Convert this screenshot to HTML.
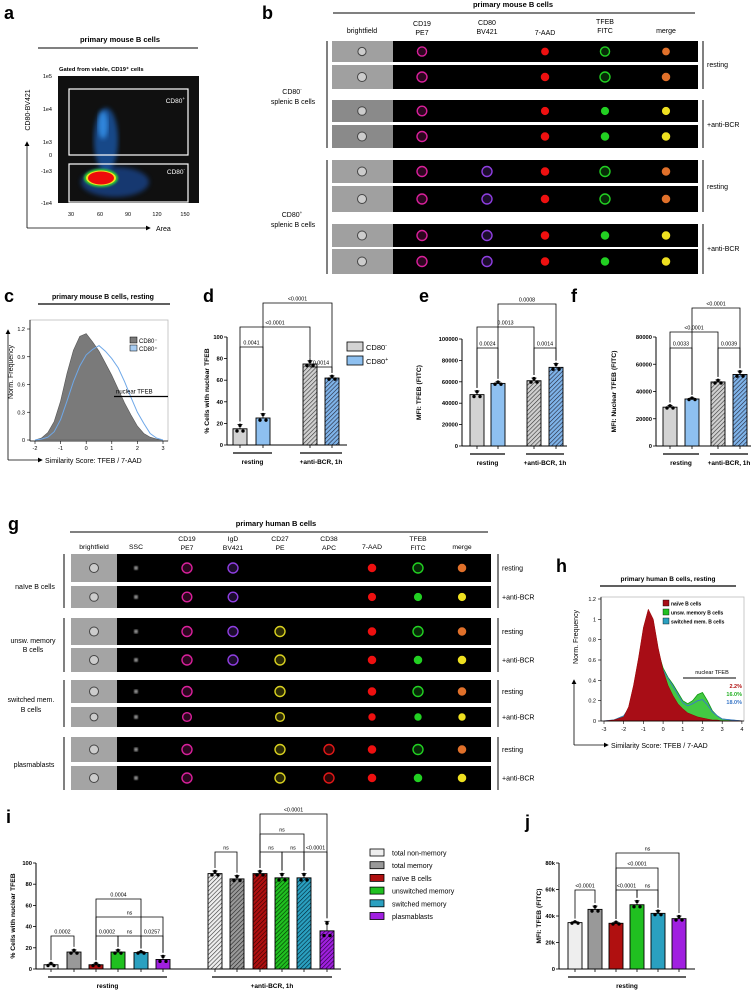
<!DOCTYPE html>
<html><head><meta charset="utf-8">
<style>
html,body{margin:0;padding:0;background:#fff;}
svg{display:block;font-family:"Liberation Sans",Arial,sans-serif;}
</style></head>
<body>
<svg id="fig" width="751" height="997" viewBox="0 0 751 997" xmlns="http://www.w3.org/2000/svg">
<defs>
<filter id="blur2"><feGaussianBlur stdDeviation="2.5"/></filter>
<filter id="blur1"><feGaussianBlur stdDeviation="1"/></filter>
<pattern id="hGray" width="3" height="3" patternUnits="userSpaceOnUse" patternTransform="rotate(45)"><rect width="3" height="3" fill="#d0d0d0"/><line x1="0" y1="0" x2="0" y2="3" stroke="#333" stroke-width="1.2"/></pattern>
<pattern id="hBlue" width="3" height="3" patternUnits="userSpaceOnUse" patternTransform="rotate(45)"><rect width="3" height="3" fill="#7fb4ea"/><line x1="0" y1="0" x2="0" y2="3" stroke="#223" stroke-width="1.2"/></pattern>
<pattern id="hWhite" width="3" height="3" patternUnits="userSpaceOnUse" patternTransform="rotate(45)"><rect width="3" height="3" fill="#eee"/><line x1="0" y1="0" x2="0" y2="3" stroke="#333" stroke-width="1.2"/></pattern>
<pattern id="hGray2" width="3" height="3" patternUnits="userSpaceOnUse" patternTransform="rotate(45)"><rect width="3" height="3" fill="#999"/><line x1="0" y1="0" x2="0" y2="3" stroke="#222" stroke-width="1.2"/></pattern>
<pattern id="hRed" width="3" height="3" patternUnits="userSpaceOnUse" patternTransform="rotate(45)"><rect width="3" height="3" fill="#b01010"/><line x1="0" y1="0" x2="0" y2="3" stroke="#300" stroke-width="1.2"/></pattern>
<pattern id="hGreen" width="3" height="3" patternUnits="userSpaceOnUse" patternTransform="rotate(45)"><rect width="3" height="3" fill="#20c020"/><line x1="0" y1="0" x2="0" y2="3" stroke="#030" stroke-width="1.2"/></pattern>
<pattern id="hCyan" width="3" height="3" patternUnits="userSpaceOnUse" patternTransform="rotate(45)"><rect width="3" height="3" fill="#2aa0c0"/><line x1="0" y1="0" x2="0" y2="3" stroke="#023" stroke-width="1.2"/></pattern>
<pattern id="hPurple" width="3" height="3" patternUnits="userSpaceOnUse" patternTransform="rotate(45)"><rect width="3" height="3" fill="#a020e0"/><line x1="0" y1="0" x2="0" y2="3" stroke="#203" stroke-width="1.2"/></pattern>
<marker id="arr" markerWidth="6" markerHeight="6" refX="5" refY="3" orient="auto"><path d="M0,0 L6,3 L0,6 z" fill="#000"/></marker>
</defs>

<g>
<text x="4" y="19" font-size="18" font-weight="bold">a</text>
<text x="120" y="42" font-size="7.5" font-weight="bold" text-anchor="middle">primary mouse B cells</text>
<line x1="38" y1="48" x2="198" y2="48" stroke="#000" stroke-width="1"/>
<text x="59" y="71" font-size="5.8" font-weight="bold">Gated from viable, CD19⁺ cells</text>
<rect x="58" y="76" width="141" height="127" fill="#101010"/>
<g>
<ellipse cx="106" cy="140" rx="12" ry="32" fill="#1e6ed8" opacity="0.6" filter="url(#blur2)"/>
<ellipse cx="115" cy="182" rx="34" ry="15" fill="#1a5ac0" opacity="0.55" filter="url(#blur2)"/>
<ellipse cx="103" cy="125" rx="5" ry="14" fill="#3aa0ff" opacity="0.7" filter="url(#blur2)"/>
<ellipse cx="101" cy="178" rx="17" ry="9" fill="#30d030" filter="url(#blur1)"/>
<ellipse cx="101" cy="178" rx="15" ry="7.5" fill="#f0e020"/>
<ellipse cx="101" cy="178" rx="13" ry="6.5" fill="#ee0a0a"/>
</g>
<rect x="69" y="89" width="119" height="66" fill="none" stroke="#fff" stroke-width="1.2"/>
<rect x="69" y="164" width="119" height="38" fill="none" stroke="#fff" stroke-width="1.2"/>
<text x="185" y="103" font-size="6.5" fill="#fff" text-anchor="end">CD80<tspan font-size="4.5" dy="-3">+</tspan></text>
<text x="185" y="174" font-size="6.5" fill="#fff" text-anchor="end">CD80<tspan font-size="4.5" dy="-3">-</tspan></text>
<g font-size="5.5" text-anchor="end">
<text x="52" y="78">1e5</text><text x="52" y="111">1e4</text><text x="52" y="144">1e3</text><text x="52" y="157">0</text><text x="52" y="173">-1e3</text><text x="52" y="205">-1e4</text>
</g>
<g font-size="5.5" text-anchor="middle">
<text x="71" y="216">30</text><text x="100" y="216">60</text><text x="128" y="216">90</text><text x="157" y="216">120</text><text x="185" y="216">150</text>
</g>
<line x1="27" y1="228" x2="150" y2="228" stroke="#000" stroke-width="0.8" marker-end="url(#arr)"/>
<line x1="27" y1="228" x2="27" y2="142" stroke="#000" stroke-width="0.8" marker-end="url(#arr)"/>
<text x="156" y="231" font-size="7">Area</text>
<text transform="translate(30,110) rotate(-90)" font-size="7" text-anchor="middle">CD80-BV421</text>
</g>

<g id="panelB">
<text x="262" y="19" font-size="18" font-weight="bold">b</text>
<text x="513" y="7" font-size="7.5" font-weight="bold" text-anchor="middle">primary mouse B cells</text>
<line x1="333" y1="13" x2="695" y2="13" stroke="#000" stroke-width="1"/>
<g font-size="7" text-anchor="middle">
<text x="362" y="33">brightfield</text>
<text x="422" y="26">CD19</text><text x="422" y="35">PE7</text>
<text x="487" y="25">CD80</text><text x="487" y="34">BV421</text>
<text x="545" y="35">7-AAD</text>
<text x="605" y="24">TFEB</text><text x="605" y="33">FITC</text>
<text x="666" y="33">merge</text>
</g>
<g font-size="7" text-anchor="middle">
<text x="292" y="94">CD80<tspan font-size="4.5" dy="-3">-</tspan></text>
<text x="293" y="104">splenic B cells</text>
<text x="292" y="217">CD80<tspan font-size="4.5" dy="-3">+</tspan></text>
<text x="293" y="227">splenic B cells</text>
</g>
<line x1="327" y1="41" x2="327" y2="148" stroke="#000" stroke-width="1"/>
<line x1="327" y1="160" x2="327" y2="274" stroke="#000" stroke-width="1"/>
<line x1="703" y1="41" x2="703" y2="89" stroke="#000" stroke-width="1"/>
<line x1="703" y1="100" x2="703" y2="148" stroke="#000" stroke-width="1"/>
<line x1="703" y1="160" x2="703" y2="212" stroke="#000" stroke-width="1"/>
<line x1="703" y1="224" x2="703" y2="274" stroke="#000" stroke-width="1"/>
<g font-size="7">
<text x="707" y="67">resting</text><text x="707" y="127">+anti-BCR</text>
<text x="707" y="189">resting</text><text x="707" y="251">+anti-BCR</text>
</g>
</g>

<g id="panelG">
<text x="8" y="530" font-size="18" font-weight="bold">g</text>
<text x="276" y="526" font-size="7.5" font-weight="bold" text-anchor="middle">primary human B cells</text>
<line x1="70" y1="532" x2="488" y2="532" stroke="#000" stroke-width="1"/>
<g font-size="6.8" text-anchor="middle">
<text x="94" y="549">brightfield</text><text x="136" y="549">SSC</text>
<text x="187" y="541">CD19</text><text x="187" y="550">PE7</text>
<text x="233" y="541">IgD</text><text x="233" y="550">BV421</text>
<text x="280" y="541">CD27</text><text x="280" y="550">PE</text>
<text x="329" y="541">CD38</text><text x="329" y="550">APC</text>
<text x="372" y="549">7-AAD</text>
<text x="418" y="541">TFEB</text><text x="418" y="550">FITC</text>
<text x="462" y="549">merge</text>
</g>
<g font-size="7" text-anchor="middle">
<text x="35" y="589">naïve B cells</text>
<text x="33" y="643">unsw. memory</text><text x="33" y="652">B cells</text>
<text x="31" y="702">switched mem.</text><text x="31" y="712">B cells</text>
<text x="34" y="767">plasmablasts</text>
</g>
<line x1="64" y1="554" x2="64" y2="608" stroke="#000"/><line x1="64" y1="618" x2="64" y2="672" stroke="#000"/>
<line x1="64" y1="680" x2="64" y2="727" stroke="#000"/><line x1="64" y1="737" x2="64" y2="790" stroke="#000"/>
</g>

<g id="panelC">
<text x="4" y="302" font-size="18" font-weight="bold">c</text>
<text x="103" y="299" font-size="7" font-weight="bold" text-anchor="middle">primary mouse B cells, resting</text>
<line x1="38" y1="304" x2="170" y2="304" stroke="#000" stroke-width="1.2"/>
<line x1="8" y1="460" x2="8" y2="330" stroke="#000" stroke-width="0.8" marker-end="url(#arr)"/>
<line x1="8" y1="460" x2="42" y2="460" stroke="#000" stroke-width="0.8" marker-end="url(#arr)"/>
<text x="45" y="463" font-size="7">Similarity Score: TFEB / 7-AAD</text>
<text transform="translate(13,372) rotate(-90)" font-size="7" text-anchor="middle">Norm. Frequency</text>
</g>

<g id="panelH">
<text x="556" y="572" font-size="18" font-weight="bold">h</text>
<text x="668" y="581" font-size="6.5" font-weight="bold" text-anchor="middle">primary human B cells, resting</text>
<line x1="600" y1="586" x2="736" y2="586" stroke="#000" stroke-width="1.2"/>
<line x1="574" y1="745" x2="574" y2="680" stroke="#000" stroke-width="0.8" marker-end="url(#arr)"/>
<line x1="574" y1="745" x2="608" y2="745" stroke="#000" stroke-width="0.8" marker-end="url(#arr)"/>
<text x="611" y="748" font-size="7">Similarity Score: TFEB / 7-AAD</text>
<text transform="translate(578,637) rotate(-90)" font-size="7" text-anchor="middle">Norm. Frequency</text>
</g>

<g id="charts"></g>
</svg>

<script>
// ---------- data ----------
const dCategories = ["CD80- resting","CD80+ resting","CD80- anti-BCR","CD80+ anti-BCR"];
const dValues = [15, 25, 75, 62];
const dErr = [4, 4, 3, 2];
const eValues = [48000, 58500, 61000, 73500];
const eErr = [3500, 1500, 2500, 3500];
const fValues = [28500, 34500, 47000, 52500];
const fErr = [1200, 800, 1500, 2500];
const iCategories = ["total non-memory","total memory","naïve B cells","unswitched memory","switched memory","plasmablasts"];
const iResting = [4, 16, 4, 16, 15.5, 9];
const iRestErr = [1.5, 2, 1.5, 2, 1, 3.5];
const iAnti = [90, 85, 90, 86, 86, 36];
const iAntiErr = [2.5, 3, 2.5, 4, 4, 9];
const jValues = [35, 45, 34.5, 48.5, 42, 38];
const jErr = [0.8, 2.5, 1, 3, 2, 2];
const dTicks = [0, 20, 40, 60, 80, 100];
const eTicks = [0, 20000, 40000, 60000, 80000, 100000];
const fTicks = [0, 20000, 40000, 60000, 80000];
const iTicks = [0, 20, 40, 60, 80, 100];
const jTicks = [0, 20, 40, 60, 80];
const jTickLabels = ["0", "20k", "40k", "60k", "80k"];
const cX = [-2,-1.75,-1.5,-1.25,-1,-0.75,-0.5,-0.25,0,0.25,0.5,0.75,1,1.25,1.5,1.75,2,2.25,2.5,2.75,3];
const cNeg = [0,0.02,0.08,0.2,0.42,0.72,0.97,1.12,1.15,1.06,0.96,0.83,0.7,0.55,0.4,0.27,0.15,0.07,0.03,0.01,0];
const cPos = [0,0.01,0.03,0.09,0.22,0.42,0.63,0.8,0.92,0.98,1.02,0.96,0.88,0.78,0.63,0.46,0.3,0.18,0.07,0.02,0];
const cTicksX = [-2,-1,0,1,2,3];
const cTicksY = [0,0.3,0.6,0.9,1.2];
const hX = [-3,-2.5,-2,-1.75,-1.5,-1.25,-1,-0.75,-0.5,-0.25,0,0.25,0.5,0.75,1,1.25,1.5,1.75,2,2.25,2.5,2.75,3,3.5,4];
const hNaive = [0,0.01,0.04,0.14,0.35,0.62,0.92,1.1,1.0,0.72,0.5,0.35,0.25,0.17,0.12,0.08,0.06,0.04,0.03,0.02,0.01,0.01,0,0,0];
const hUnsw = [0,0.01,0.05,0.12,0.3,0.52,0.72,0.88,0.92,0.68,0.52,0.43,0.36,0.28,0.2,0.17,0.2,0.26,0.28,0.2,0.1,0.05,0.02,0.01,0];
const hSwitched = [0,0.01,0.05,0.12,0.3,0.55,0.78,0.85,0.78,0.6,0.5,0.42,0.34,0.26,0.18,0.15,0.17,0.2,0.21,0.16,0.09,0.05,0.02,0.01,0];
const hTicksX = [-3,-2,-1,0,1,2,3,4];
const hTicksY = [0,0.2,0.4,0.6,0.8,1,1.2];

const NS = "http://www.w3.org/2000/svg";
const root = document.getElementById("charts");
function mk(tag, attrs, parent) {
  const el = document.createElementNS(NS, tag);
  for (const k in attrs) el.setAttribute(k, attrs[k]);
  (parent || root).appendChild(el);
  return el;
}
function txt(x, y, s, size, anchor, parent, extra) {
  const t = mk("text", Object.assign({x: x, y: y, "font-size": size, "text-anchor": anchor || "middle"}, extra || {}), parent);
  t.textContent = s;
  return t;
}

const COL = {cd19:"#d8209a", cd80:"#8e3ee0", aad:"#ee1010", tfeb:"#22d022", cd27:"#d8d020", cd38:"#e01818", mergeR:"#e0702a", mergeA:"#eee020", ssc:"#bbb"};
function cellStrip(parent, x0, x1, bfEnd, y0, y1, cols, chans, bfShade) {
  const g = mk("g", {}, parent);
  
  
  mk("rect", {x: x0, y: y0, width: x1 - x0, height: y1 - y0, fill: "#000"}, g);
  mk("rect", {x: x0, y: y0, width: bfEnd - x0, height: y1 - y0, fill: bfShade}, g);
  const cy = (y0 + y1) / 2;
  const r = Math.min(5, (y1 - y0) / 4.6);
  chans.forEach((c, i) => {
    const cx = cols[i];
    if (!c) return;
    const [kind, color] = c.split(":");
    if (kind === "bf") {
      mk("circle", {cx: cx, cy: cy, r: r * 0.9, fill: "#ccc", stroke: "#444", "stroke-width": 1}, g);
    } else if (kind === "ring") {
      mk("circle", {cx: cx, cy: cy, r: r, fill: COL[color], "fill-opacity": 0.2, stroke: COL[color], "stroke-width": 1.4}, g);
    } else if (kind === "dot") {
      mk("circle", {cx: cx, cy: cy, r: r * 0.85, fill: COL[color]}, g);
    } else if (kind === "ssc") {
      mk("circle", {cx: cx, cy: cy, r: 2, fill: "#aaa", filter: "url(#blur1)"}, g);
    }
  });
}
const bRows = [[41,62],[65,89],[100,122],[125,148],[160,183],[186,212],[224,247],[249,274]];
const bCols = [362,422,487,545,605,666];
const pB = document.getElementById("panelB");
bRows.forEach((r, i) => {
  const pos = i >= 4;
  const anti = (i % 4) >= 2;
  cellStrip(pB, 332, 698, 393, r[0], r[1], bCols,
    ["bf", "ring:cd19", pos ? "ring:cd80" : null, "dot:aad", anti ? "dot:tfeb" : "ring:tfeb", anti ? "dot:mergeA" : "dot:mergeR"],
    anti && !pos ? "#8a8a8a" : "#a0a0a0");
});
const gRows = [[554,582],[586,608],[618,645],[648,672],[680,703],[707,727],[737,762],[766,790]];
const gCols = [94,136,187,233,280,329,372,418,462];
const gGroups = [
  ["ssc", "ring:cd19", "ring:cd80", null, null],
  ["ssc", "ring:cd19", "ring:cd80", "ring:cd27", null],
  ["ssc", "ring:cd19", null, "ring:cd27", null],
  ["ssc", "ring:cd19", null, "ring:cd27", "ring:cd38"]
];
const pG = document.getElementById("panelG");
gRows.forEach((r, i) => {
  const grp = gGroups[Math.floor(i / 2)];
  const anti = i % 2 === 1;
  cellStrip(pG, 71, 491, 117, r[0], r[1], gCols,
    ["bf"].concat(grp, ["dot:aad", anti ? "dot:tfeb" : "ring:tfeb", anti ? "dot:mergeA" : "dot:mergeR"]), "#a4a4a4");
  const lbl = txt(502, (r[0] + r[1]) / 2 + 2.5, anti ? "+anti-BCR" : "resting", 7, "start", pG);
  
  
  if (!anti) mk("line", {x1: 498, y1: r[0], x2: 498, y2: gRows[i + 1][1], stroke: "#000"}, pG);
});

function histPath(xs, ys, sx, sy, closed) {
  let d = "";
  xs.forEach((x, i) => { d += (i ? "L" : "M") + sx(x).toFixed(1) + "," + sy(ys[i]).toFixed(1); });
  if (closed) d += "L" + sx(xs[xs.length - 1]) + "," + sy(0) + "L" + sx(xs[0]) + "," + sy(0) + "Z";
  return d;
}
(function () {
  const p = document.getElementById("panelC");
  const sx = v => 35 + (v + 2) * 25.6;
  const sy = v => 440 - v / 1.2 * 111;
  mk("rect", {x: 30, y: 320, width: 138, height: 121, fill: "#fff", stroke: "#bbb", "stroke-width": 0.8}, p);
  const gneg = mk("path", {d: histPath(cX, cNeg, sx, sy, true), fill: "#7a7a7a", stroke: "#555", "stroke-width": 0.6}, p);
  
  
  const gpos = mk("path", {d: histPath(cX, cPos, sx, sy, false), fill: "none", stroke: "#6fa8e8", "stroke-width": 1}, p);
  
  
  mk("line", {x1: 30, y1: 441, x2: 168, y2: 441, stroke: "#000", "stroke-width": 0.8}, p);
  mk("line", {x1: 30, y1: 320, x2: 30, y2: 441, stroke: "#000", "stroke-width": 0.8}, p);
  cTicksX.forEach(t => { mk("line", {x1: sx(t), y1: 441, x2: sx(t), y2: 444, stroke: "#000", "stroke-width": 0.6}, p); txt(sx(t), 450, String(t), 5.5, "middle", p); });
  cTicksY.forEach(t => { mk("line", {x1: 27, y1: sy(t), x2: 30, y2: sy(t), stroke: "#000", "stroke-width": 0.6}, p); txt(25, sy(t) + 2, String(t), 5.5, "end", p); });
  mk("line", {x1: 114, y1: sy(0.47), x2: 168, y2: sy(0.47), stroke: "#000", "stroke-width": 1.2}, p);
  txt(116, sy(0.47) - 3, "nuclear TFEB", 6, "start", p);
  mk("rect", {x: 130, y: 337, width: 7, height: 6, fill: "#7a7a7a", stroke: "#000", "stroke-width": 0.5}, p);
  mk("rect", {x: 130, y: 345, width: 7, height: 6, fill: "#a8cdf3", stroke: "#000", "stroke-width": 0.5}, p);
  txt(139, 343, "CD80⁻", 6, "start", p); txt(139, 351, "CD80⁺", 6, "start", p);
})();
(function () {
  const p = document.getElementById("panelH");
  const sx = v => 604 + (v + 3) * 19.7;
  const sy = v => 721 - v / 1.2 * 122;
  mk("rect", {x: 601, y: 597, width: 143, height: 124, fill: "#fff", stroke: "#bbb", "stroke-width": 0.8}, p);
  const gu = mk("path", {d: histPath(hX, hUnsw, sx, sy, true), fill: "#22c022", "fill-opacity": 0.85, stroke: "#119911", "stroke-width": 0.8}, p);
  
  
  const gs = mk("path", {d: histPath(hX, hSwitched, sx, sy, false), fill: "none", stroke: "#3a78c8", "stroke-width": 0.9}, p);
  
  
  const gn = mk("path", {d: histPath(hX, hNaive, sx, sy, true), fill: "#a80d16", stroke: "#900", "stroke-width": 0.5}, p);
  
  
  mk("line", {x1: 601, y1: 721, x2: 744, y2: 721, stroke: "#000", "stroke-width": 0.8}, p);
  mk("line", {x1: 601, y1: 597, x2: 601, y2: 721, stroke: "#000", "stroke-width": 0.8}, p);
  hTicksX.forEach(t => { mk("line", {x1: sx(t), y1: 721, x2: sx(t), y2: 724, stroke: "#000", "stroke-width": 0.6}, p); txt(sx(t), 731, String(t), 5.5, "middle", p); });
  hTicksY.forEach(t => { mk("line", {x1: 598, y1: sy(t), x2: 601, y2: sy(t), stroke: "#000", "stroke-width": 0.6}, p); txt(596, sy(t) + 2, String(t), 5.5, "end", p); });
  const leg = [["#a80d16", "naïve B cells"], ["#22c022", "unsw. memory B cells"], ["#2aa0c0", "switched mem. B cells"]];
  leg.forEach((l, i) => { mk("rect", {x: 663, y: 600 + i * 9, width: 6, height: 6, fill: l[0], stroke: "#000", "stroke-width": 0.4}, p); txt(671, 605.5 + i * 9, l[1], 5, "start", p, {"font-weight": "bold"}); });
  txt(712, 674, "nuclear TFEB", 5.5, "middle", p);
  mk("line", {x1: 683, y1: 678, x2: 736, y2: 678, stroke: "#000", "stroke-width": 1}, p);
  txt(742, 688, "2.2%", 5.5, "end", p, {fill: "#b01010", "font-weight": "bold"});
  txt(742, 696, "16.0%", 5.5, "end", p, {fill: "#22b022", "font-weight": "bold"});
  txt(742, 704, "18.0%", 5.5, "end", p, {fill: "#3a78c8", "font-weight": "bold"});
})();

function barChart(o) {
  const g = mk("g", {});
  
  
  const sy = v => o.y0 - v / o.max * o.h;
  txt(o.lx, o.ly, o.letter, 18, "start", g, {"font-weight": "bold"});
  mk("line", {x1: o.ax, y1: sy(o.max), x2: o.ax, y2: o.y0, stroke: "#000", "stroke-width": 1}, g);
  mk("line", {x1: o.ax, y1: o.y0, x2: o.axEnd, y2: o.y0, stroke: "#000", "stroke-width": 1}, g);
  o.ticks.forEach((t, i) => {
    mk("line", {x1: o.ax - 3, y1: sy(t), x2: o.ax, y2: sy(t), stroke: "#000", "stroke-width": 0.8}, g);
    txt(o.ax - 4, sy(t) + 2, o.tickLabels ? o.tickLabels[i] : String(t), 5.8, "end", g, {"font-weight": "bold"});
  });
  const yt = txt(0, 0, o.ytitle, 6.8, "middle", g, {"font-weight": "bold", transform: "translate(" + o.ytx + "," + ((sy(o.max) + o.y0) / 2) + ") rotate(-90)"});
  
  o.values.forEach((v, i) => {
    const cx = o.xs[i];
    const b = mk("rect", {x: cx - o.bw / 2, y: sy(v), width: o.bw, height: o.y0 - sy(v), fill: o.fills[i], stroke: "#000", "stroke-width": 0.9}, g);
    
    
    const e = o.errs[i];
    mk("line", {x1: cx, y1: sy(v + e), x2: cx, y2: sy(v), stroke: "#000", "stroke-width": 0.8}, g);
    mk("line", {x1: cx - 2.5, y1: sy(v + e), x2: cx + 2.5, y2: sy(v + e), stroke: "#000", "stroke-width": 0.8}, g);
    [-3, 0, 3].forEach((dx, k) => {
      const pv = v + (k === 1 ? e * 0.8 : -e * 0.5);
      const dot = mk("circle", {cx: cx + dx, cy: sy(pv), r: 1.7, fill: "#000"}, g);
      
    });
    mk("line", {x1: cx, y1: o.y0, x2: cx, y2: o.y0 + 3, stroke: "#000", "stroke-width": 0.8}, g);
  });
  o.groups.forEach(gr => {
    mk("line", {x1: gr[0], y1: o.gy, x2: gr[1], y2: o.gy, stroke: "#000", "stroke-width": 1.3}, g);
    txt((gr[0] + gr[1]) / 2, o.gy + 11, gr[2], 6.5, "middle", g, {"font-weight": "bold"});
  });
  o.brackets.forEach(br => {
    const x1 = o.xs[br[0]], x2 = o.xs[br[1]], y = br[2];
    const y1 = sy(o.values[br[0]] + o.errs[br[0]]) - 3, y2 = sy(o.values[br[1]] + o.errs[br[1]]) - 3;
    mk("polyline", {points: x1 + "," + y1 + " " + x1 + "," + y + " " + x2 + "," + y + " " + x2 + "," + y2, fill: "none", stroke: "#000", "stroke-width": 0.8}, g);
    txt((x1 + x2) / 2, y - 2.5, br[3], 5.3, "middle", g);
  });
  return g;
}
barChart({name: "panel-d-chart", letter: "d", lx: 203, ly: 302, ax: 227, axEnd: 347, y0: 445, h: 108, max: 100,
  ticks: dTicks, ytitle: "% Cells with nuclear TFEB", ytx: 209, values: dValues, errs: dErr,
  xs: [240, 263, 310, 332], bw: 14, fills: ["#d3d3d3", "#8ec0f0", "url(#hGray)", "url(#hBlue)"],
  groups: [[233, 272, "resting"], [300, 342, "+anti-BCR, 1h"]], gy: 453,
  brackets: [[0, 1, 347, "0.0041"], [2, 3, 367, "0.0014"], [0, 2, 327, "<0.0001"], [1, 3, 303, "<0.0001"]]});
barChart({name: "panel-e-chart", letter: "e", lx: 419, ly: 302, ax: 462, axEnd: 567, y0: 446, h: 107, max: 100000,
  ticks: eTicks, ytitle: "MFI: TFEB (FITC)", ytx: 421, values: eValues, errs: eErr,
  xs: [477, 498, 534, 556], bw: 14, fills: ["#d3d3d3", "#8ec0f0", "url(#hGray)", "url(#hBlue)"],
  groups: [[470, 505, "resting"], [526, 564, "+anti-BCR, 1h"]], gy: 454,
  brackets: [[0, 1, 348, "0.0024"], [2, 3, 348, "0.0014"], [0, 2, 327, "0.0013"], [1, 3, 304, "0.0008"]]});
barChart({name: "panel-f-chart", letter: "f", lx: 571, ly: 302, ax: 656, axEnd: 751, y0: 446, h: 109, max: 80000,
  ticks: fTicks, ytitle: "MFI: Nuclear TFEB (FITC)", ytx: 616, values: fValues, errs: fErr,
  xs: [670, 692, 718, 740], bw: 14, fills: ["#d3d3d3", "#8ec0f0", "url(#hGray)", "url(#hBlue)"],
  groups: [[663, 699, "resting"], [710, 748, "+anti-BCR, 1h"]], gy: 454,
  brackets: [[0, 1, 348, "0.0033"], [2, 3, 348, "0.0039"], [0, 2, 332, "<0.0001"], [1, 3, 308, "<0.0001"]]});

(function () {
  const g = mk("g", {});
  
  
  mk("rect", {x: 347, y: 342, width: 16, height: 9, fill: "#d3d3d3", stroke: "#000", "stroke-width": 0.8}, g);
  mk("rect", {x: 347, y: 356, width: 16, height: 9, fill: "#8ec0f0", stroke: "#000", "stroke-width": 0.8}, g);
  const t1 = txt(366, 350, "CD80", 7.5, "start", g); const s1 = mk("tspan", {"font-size": 5, dy: -3}, t1); s1.textContent = "-";
  const t2 = txt(366, 364, "CD80", 7.5, "start", g); const s2 = mk("tspan", {"font-size": 5, dy: -3}, t2); s2.textContent = "+";
})();

const iFillsR = ["#eeeeee", "#999999", "#b01010", "#20c020", "#2aa0c0", "#a020e0"];
const iFillsA = ["url(#hWhite)", "url(#hGray2)", "url(#hRed)", "url(#hGreen)", "url(#hCyan)", "url(#hPurple)"];
barChart({name: "panel-i-chart", letter: "i", lx: 6, ly: 823, ax: 36, axEnd: 341, y0: 969, h: 106, max: 100,
  ticks: iTicks, ytitle: "% Cells with nuclear TFEB", ytx: 15, values: iResting.concat(iAnti), errs: iRestErr.concat(iAntiErr),
  xs: [51, 74, 96, 118, 141, 163, 215, 237, 260, 282, 304, 327], bw: 14, fills: iFillsR.concat(iFillsA),
  groups: [[48, 167, "resting"], [212, 332, "+anti-BCR, 1h"]], gy: 977,
  brackets: [[0, 1, 936, "0.0002"], [2, 3, 936, "0.0002"], [3, 4, 936, "ns"], [4, 5, 936, "0.0257"], [2, 5, 917, "ns"], [2, 4, 899, "0.0004"],
    [6, 7, 852, "ns"], [8, 9, 852, "ns"], [9, 10, 852, "ns"], [10, 11, 852, "<0.0001"], [8, 10, 834, "ns"], [8, 11, 814, "<0.0001"]]});
(function () {
  const g = mk("g", {});
  
  
  iCategories.forEach((c, i) => {
    mk("rect", {x: 370, y: 849 + i * 12.7, width: 14, height: 7, fill: iFillsR[i], stroke: "#000", "stroke-width": 0.8}, g);
    txt(392, 855.5 + i * 12.7, c, 7, "start", g);
  });
})();
barChart({name: "panel-j-chart", letter: "j", lx: 525, ly: 828, ax: 559, axEnd: 695, y0: 969, h: 106, max: 80,
  ticks: jTicks, tickLabels: jTickLabels, ytitle: "MFI: TFEB (FITC)", ytx: 541, values: jValues, errs: jErr,
  xs: [575, 595, 616, 637, 658, 679], bw: 14, fills: iFillsR,
  groups: [[568, 686, "resting"]], gy: 977,
  brackets: [[0, 1, 890, "<0.0001"], [2, 3, 890, "<0.0001"], [3, 4, 890, "ns"], [2, 4, 868, "<0.0001"], [2, 5, 853, "ns"]]});
</script>
</body></html>
